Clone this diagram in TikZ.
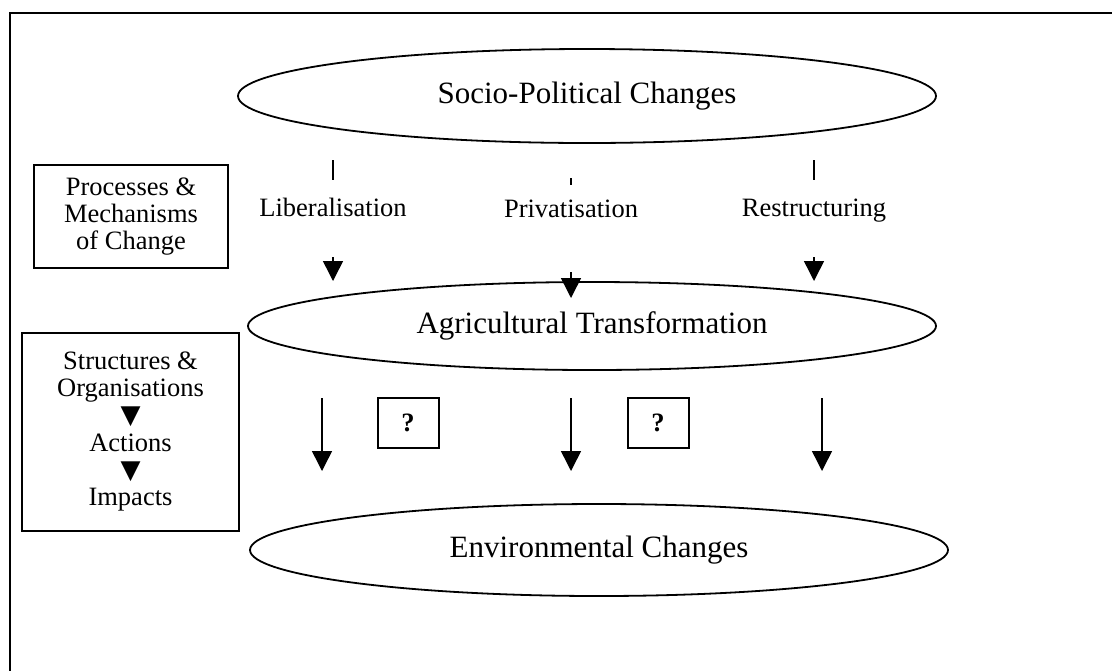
\documentclass[tikz,border=0pt]{standalone}
\usepackage{fontspec}
\setmainfont{Liberation Serif}
\newfontfamily\symfont{DejaVu Sans}
\usetikzlibrary{shapes.geometric,arrows.meta}
\tikzset{
  bigell/.style={ellipse, draw, line width=0.9pt, inner sep=0pt, font=\fontsize{15.5}{18}\selectfont},
  lbl/.style={inner sep=0pt, anchor=base, font=\fontsize{13.25}{15}\selectfont},
  sidebox/.style={draw, line width=1pt, inner sep=0pt, align=center, font=\fontsize{13.25}{13.6}\selectfont},
  qbox/.style={draw, line width=1pt, inner sep=0pt, minimum width=30.5pt, minimum height=25pt, font=\fontsize{13.25}{15}\selectfont\bfseries},
  thinline/.style={line width=0.7pt},
  arr/.style={line width=0.75pt, -{Triangle[width=10pt,length=10pt]}},
  frameline/.style={line width=1.2pt}
}
\newcommand{\downtri}{{\symfont\fontsize{13}{13.6}\selectfont ▼}}
\begin{document}
\begin{tikzpicture}[x=0.5pt,y=-0.5pt]
\clip (0,0) rectangle (1112,670);
\fill[white] (0,0) rectangle (1112,670);
% outer frame
\coordinate (fbl) at (10,700);
\coordinate (ftl) at (10,13);
\coordinate (ftr) at (1140,13);
\draw[frameline] (fbl) -- (ftl) -- (ftr);

% ellipses
\node[bigell, minimum width=349pt, minimum height=47pt] (socio) at (587,96) {Socio-Political Changes};
\node[bigell, minimum width=344pt, minimum height=44pt] (agri) at (592,326) {Agricultural Transformation};
\node[bigell, minimum width=349pt, minimum height=46pt] (env) at (599,550) {Environmental Changes};

% left boxes
\node[sidebox, minimum width=97pt, minimum height=51.5pt] (proc) at (131,216.5) {Processes \&\\Mechanisms\\of Change};
\node[sidebox, minimum width=108.5pt, minimum height=99pt] (struct) at (130.5,431.5) {Structures \&\\Organisations\\\downtri\\Actions\\\downtri\\Impacts};

% upper connectors with labels
\coordinate (t1a) at (333,160); \coordinate (t1b) at (333,180);
\coordinate (t2a) at (571,178); \coordinate (t2b) at (571,185);
\coordinate (t3a) at (814,160); \coordinate (t3b) at (814,180);
\draw[thinline] (t1a) -- (t1b);
\draw[thinline] (t2a) -- (t2b);
\draw[thinline] (t3a) -- (t3b);
\node[lbl] (lib) at (333,216) {Liberalisation};
\node[lbl] (priv) at (571,217) {Privatisation};
\node[lbl] (rest) at (814,216) {Restructuring};
\coordinate (h1a) at (333,257); \coordinate (h1b) at (333,281);
\coordinate (h2a) at (571,272); \coordinate (h2b) at (571,298);
\coordinate (h3a) at (814,257); \coordinate (h3b) at (814,281);
\draw[arr] (h1a) -- (h1b);
\draw[arr] (h2a) -- (h2b);
\draw[arr] (h3a) -- (h3b);

% lower connectors
\coordinate (l1a) at (322,398); \coordinate (l1b) at (322,471);
\coordinate (l2a) at (571,398); \coordinate (l2b) at (571,471);
\coordinate (l3a) at (822,398); \coordinate (l3b) at (822,471);
\draw[arr] (l1a) -- (l1b);
\draw[arr] (l2a) -- (l2b);
\draw[arr] (l3a) -- (l3b);

% question boxes
\node[qbox] (q1) at (408,423) {?};
\node[qbox] (q2) at (658,423) {?};
\end{tikzpicture}
\end{document}
